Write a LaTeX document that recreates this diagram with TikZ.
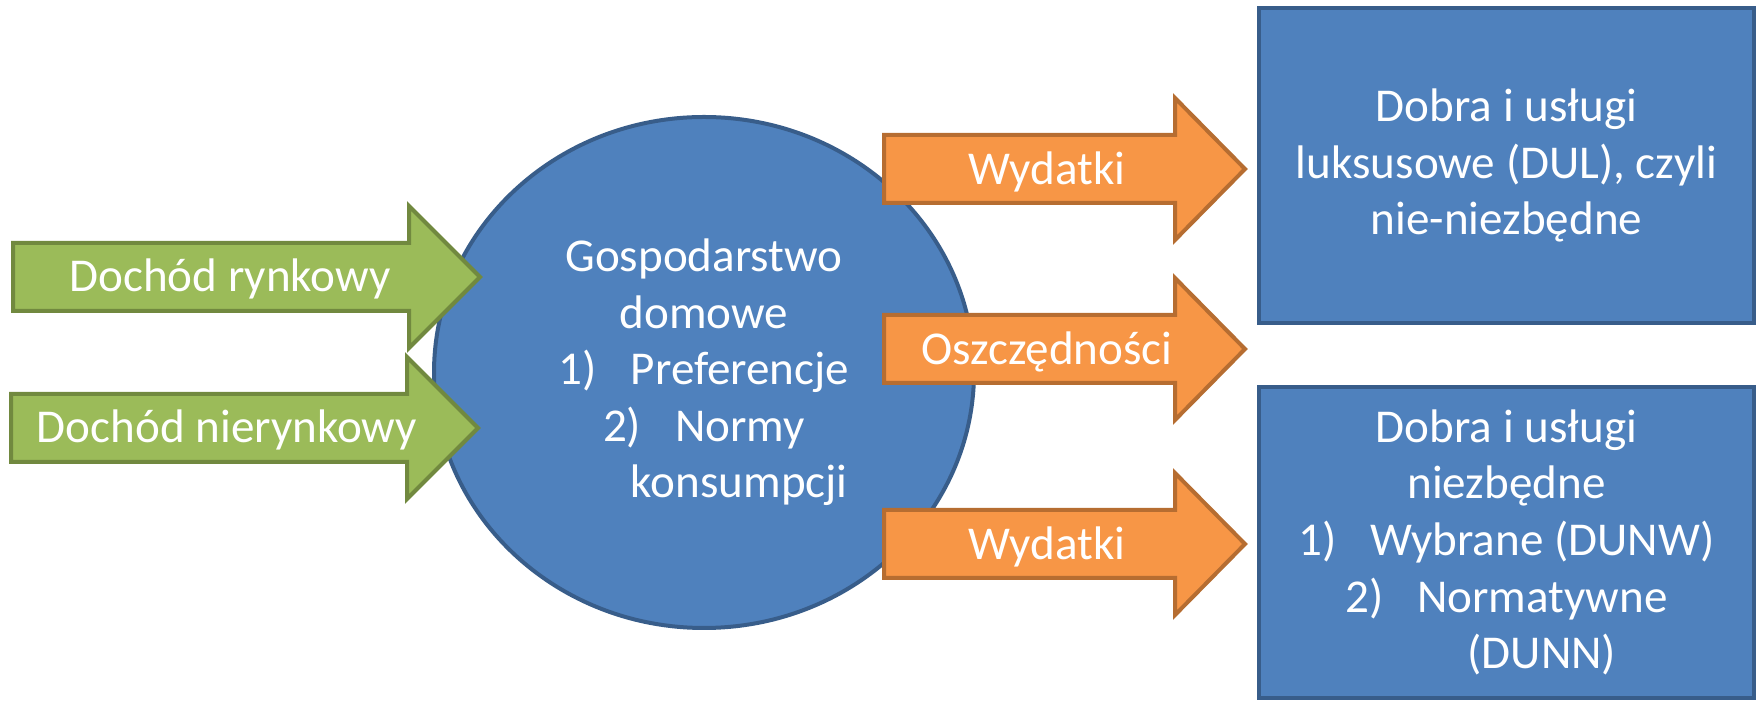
\documentclass[tikz,border=0pt]{standalone}
\usepackage{fontspec}
\setmainfont{Carlito}
\usepackage{tikz}
\usetikzlibrary{shapes.geometric}
\definecolor{boxblue}{HTML}{4F81BD}
\definecolor{boxline}{HTML}{385D8A}
\definecolor{arrowgreen}{HTML}{9BBB59}
\definecolor{greenline}{HTML}{71893F}
\definecolor{arroworange}{HTML}{F79646}
\definecolor{orangeline}{HTML}{B66D31}

\begin{document}
\begin{tikzpicture}[x=0.1mm, y=-0.1mm,
	tekst/.style={text=white, font=\fontsize{13.4}{16.1}\selectfont},
	zielona/.style={fill=arrowgreen, draw=greenline, line width=0.4mm},
	pomarancz/.style={fill=arroworange, draw=orangeline, line width=0.4mm},
	niebieski/.style={fill=boxblue, draw=boxline, line width=0.4mm, tekst, align=center, inner sep=0pt}]

\useasboundingbox (0,0) rectangle (1759,702)						;

%%%%------------Gospodarstwo----------------%%
\node [niebieski, ellipse, minimum width=54mm, minimum height=51.1mm] (gospodarstwo) at (704,372.5)
	{Gospodarstwo\\ domowe\\ 1)\hspace{0.72em}Preferencje\\ 2)\hspace{0.72em}Normy\\ \hspace*{1.5em}konsumpcji}	;

%%%%------------Dochody----------------%%
\draw [zielona] (13,243) -- (409,243) -- (409,206) -- (480,277) -- (409,348) -- (409,311) -- (13,311) -- cycle	;
\node [tekst, anchor=base] (rynkowy) at (230,292) {Dochód rynkowy}				;
\draw [zielona] (11,394) -- (407,394) -- (407,357) -- (478,428) -- (407,499) -- (407,462) -- (11,462) -- cycle	;
\node [tekst, anchor=base] (nierynkowy) at (227,443) {Dochód nierynkowy}			;

%%%%------------Wydatki----------------%%
\draw [pomarancz] (884,135) -- (1175,135) -- (1175,98) -- (1245,169) -- (1175,240) -- (1175,203) -- (884,203) -- cycle	;
\node [tekst, anchor=base] (wydatkiA) at (1047,185) {Wydatki}					;
\draw [pomarancz] (884,315) -- (1175,315) -- (1175,278) -- (1245,349) -- (1175,420) -- (1175,383) -- (884,383) -- cycle	;
\node [tekst, anchor=base] (oszczednosci) at (1047,365) {Oszczędności}			;
\draw [pomarancz] (884,510) -- (1175,510) -- (1175,473) -- (1245,544) -- (1175,615) -- (1175,578) -- (884,578) -- cycle	;
\node [tekst, anchor=base] (wydatkiB) at (1047,560) {Wydatki}					;

%%%%------------Dobra i uslugi----------------%%
\node [niebieski, minimum width=49.5mm, minimum height=31.5mm] (luksusowe) at (1506.5,165.5)
	{Dobra i usługi\\ luksusowe (DUL), czyli\\ nie-niezbędne}					;
\node [niebieski, minimum width=49.5mm, minimum height=31.1mm] (niezbedne) at (1506.5,542.5)
	{Dobra i usługi\\ niezbędne\\ 1)\hspace{0.72em}Wybrane (DUNW)\\ 2)\hspace{0.72em}Normatywne\\ \hspace*{1.5em}(DUNN)}	;

%    \draw [help lines, step=100] (0,0) grid (1759,702);
\end{tikzpicture}
\end{document}
